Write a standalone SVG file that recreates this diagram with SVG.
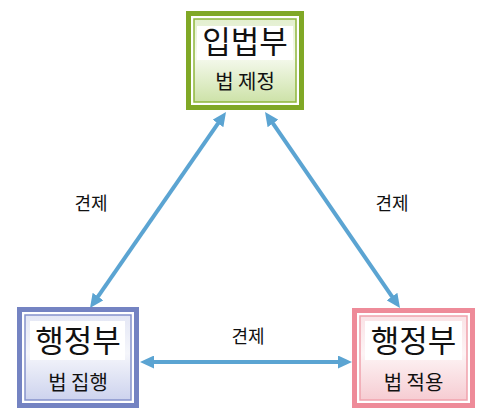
<svg xmlns="http://www.w3.org/2000/svg" width="493" height="419" viewBox="0 0 493 419">
<defs>
<style>
text{font-family:"Noto Sans CJK KR","Noto Sans",sans-serif;fill:#111;text-anchor:middle;}
.title{font-size:31px;}
.sub{font-size:20px;}
.lbl{font-size:18px;}
.conn{stroke:#5ba4d2;stroke-width:4;fill:none;marker-start:url(#ah);marker-end:url(#ah);}
.band{fill:#ffffff;}
</style>
<marker id="ah" markerUnits="userSpaceOnUse" markerWidth="14" markerHeight="13" refX="4" refY="6.5" orient="auto-start-reverse" viewBox="0 0 14 13">
<path d="M0,0 L14,6.5 L0,13 z" fill="#5ba4d2"/>
</marker>
<linearGradient id="gG" x1="0" y1="0" x2="0" y2="1">
<stop offset="0" stop-color="#e3efcf"/>
<stop offset="0.45" stop-color="#f6faef"/>
<stop offset="1" stop-color="#cde2a8"/>
</linearGradient>
<linearGradient id="gB" x1="0" y1="0" x2="0" y2="1">
<stop offset="0" stop-color="#e4e7f5"/>
<stop offset="0.45" stop-color="#f5f6fb"/>
<stop offset="1" stop-color="#cdd3ee"/>
</linearGradient>
<linearGradient id="gP" x1="0" y1="0" x2="0" y2="1">
<stop offset="0" stop-color="#fae3e6"/>
<stop offset="0.45" stop-color="#fdf4f5"/>
<stop offset="1" stop-color="#f6ccd2"/>
</linearGradient>
</defs>
<g id="connectors">
<line class="conn" x1="220.3" y1="120.2" x2="95.7" y2="299.8"/>
<line class="conn" x1="270.7" y1="120.2" x2="394.3" y2="299.8"/>
<line class="conn" x1="150" y1="362" x2="342" y2="362"/>
<text class="lbl" x="91" y="210">견제</text>
<text class="lbl" x="392" y="210">견제</text>
<text class="lbl" x="248" y="343">견제</text>
</g>
<g id="legislature">
<rect x="188.5" y="13.5" width="113" height="94" fill="#ffffff" stroke="#80a826" stroke-width="5"/>
<rect x="194" y="19" width="102" height="83" fill="url(#gG)" stroke="#8fb63c" stroke-width="1.5"/>
<rect class="band" x="197" y="26" width="96" height="34"/>
<text class="title" x="245" y="53">입법부</text>
<text class="sub" x="245" y="89">법 제정</text>
</g>
<g id="executive">
<rect x="19.5" y="309.5" width="117" height="96" fill="#ffffff" stroke="#7483c2" stroke-width="5"/>
<rect x="25" y="315" width="106" height="85" fill="url(#gB)" stroke="#8592cb" stroke-width="1.5"/>
<rect class="band" x="30" y="321" width="95" height="39"/>
<text class="title" x="78" y="352">행정부</text>
<text class="sub" x="78" y="390">법 집행</text>
</g>
<g id="judiciary">
<rect x="354.5" y="310.5" width="118" height="95" fill="#ffffff" stroke="#ee8b99" stroke-width="5"/>
<rect x="360" y="316" width="107" height="84" fill="url(#gP)" stroke="#f0a2ad" stroke-width="1.5"/>
<rect class="band" x="365" y="321" width="97" height="39"/>
<text class="title" x="413.5" y="352">행정부</text>
<text class="sub" x="413.5" y="390">법 적용</text>
</g>
</svg>
